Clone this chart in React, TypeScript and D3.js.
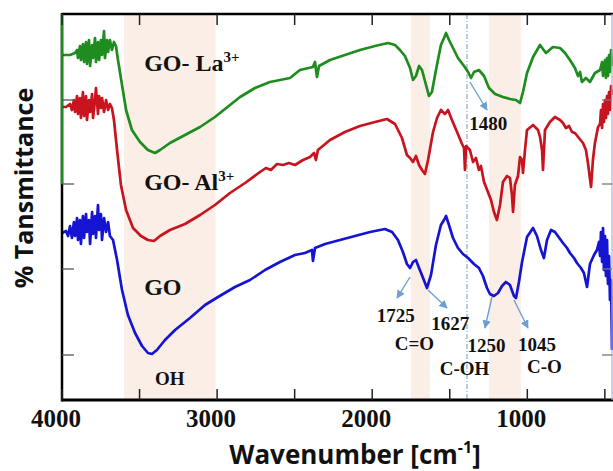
import React from "react";
import * as d3 from "d3";

// ---- data (wavenumber cm-1, relative transmittance units) ----
const goLa: [number, number][] = [
  [4000, 345], [3948, 345], [3916, 347], [3903, 350], [3897, 342], [3884, 354], [3878, 340], [3865, 356], [3858, 338],
  [3845, 358], [3839, 336], [3826, 360], [3819, 334], [3806, 355], [3800, 342], [3787, 362], [3781, 338], [3768, 358],
  [3761, 340], [3749, 360], [3742, 345], [3729, 369], [3723, 342], [3710, 360], [3703, 348], [3691, 360], [3678, 350],
  [3665, 358], [3652, 354], [3639, 340], [3613, 315], [3587, 290], [3549, 270], [3497, 258], [3446, 250], [3400, 247],
  [3368, 250], [3304, 257], [3207, 265], [3110, 273], [3014, 283], [2917, 295], [2852, 303], [2756, 312], [2659, 318],
  [2530, 322], [2466, 330], [2382, 333], [2369, 338], [2356, 323], [2343, 334], [2272, 340], [2176, 345], [2079, 350],
  [1982, 354], [1898, 357], [1853, 355], [1821, 350], [1789, 344], [1756, 332], [1737, 320], [1718, 324], [1698, 334],
  [1679, 330], [1653, 315], [1634, 304], [1615, 308], [1589, 330], [1557, 355], [1537, 362], [1524, 367], [1505, 360],
  [1479, 352], [1447, 342], [1408, 334], [1382, 328], [1363, 322], [1344, 328], [1312, 330], [1279, 324], [1247, 312],
  [1208, 306], [1157, 303], [1112, 301], [1073, 300], [1047, 297], [1028, 308], [1002, 327], [963, 343], [918, 355],
  [880, 347], [835, 353], [789, 352], [757, 347], [725, 340], [693, 332], [673, 324], [660, 328], [648, 318], [622, 322],
  [596, 318], [564, 327], [531, 330], [518, 338], [512, 324], [499, 340], [493, 322], [486, 342], [480, 324], [473, 345],
  [467, 328], [460, 350], [454, 334],
];

const goAl: [number, number][] = [
  [4000, 293], [3974, 293], [3948, 296], [3936, 290], [3923, 300], [3916, 288], [3903, 304], [3897, 286], [3884, 302],
  [3878, 282], [3865, 308], [3858, 284], [3845, 304], [3839, 280], [3826, 300], [3819, 288], [3806, 306], [3800, 282],
  [3787, 300], [3781, 312], [3768, 286], [3761, 304], [3749, 292], [3742, 302], [3729, 288], [3716, 300], [3703, 290],
  [3691, 296], [3678, 292], [3665, 280], [3645, 250], [3620, 215], [3587, 190], [3542, 172], [3491, 164], [3446, 160],
  [3407, 159], [3368, 164], [3304, 170], [3207, 176], [3110, 185], [3014, 195], [2917, 207], [2820, 217], [2723, 228],
  [2685, 232], [2653, 230], [2614, 236], [2575, 235], [2537, 237], [2498, 235], [2446, 240], [2401, 243], [2375, 247],
  [2363, 240], [2350, 250], [2272, 260], [2176, 268], [2079, 274], [1982, 278], [1905, 281], [1853, 276], [1808, 262],
  [1776, 245], [1756, 242], [1737, 238], [1718, 244], [1698, 235], [1679, 230], [1660, 226], [1640, 240], [1608, 268],
  [1582, 282], [1557, 290], [1531, 286], [1511, 290], [1486, 280], [1453, 268], [1421, 256], [1408, 252], [1402, 230],
  [1395, 254], [1370, 250], [1350, 238], [1331, 242], [1312, 230], [1299, 234], [1279, 218], [1254, 208], [1234, 200],
  [1215, 188], [1196, 180], [1176, 195], [1157, 218], [1131, 224], [1112, 222], [1099, 205], [1092, 188], [1080, 215],
  [1060, 224], [1047, 243], [1034, 240], [1028, 227], [1015, 250], [1002, 270], [963, 275], [931, 270], [918, 263],
  [905, 250], [899, 230], [886, 270], [854, 278], [822, 283], [789, 280], [770, 277], [751, 272], [731, 274], [712, 268],
  [693, 267], [667, 262], [641, 257], [622, 250], [609, 237], [589, 213], [577, 240], [564, 257], [544, 273], [531, 276],
  [525, 290], [518, 272], [512, 296], [506, 278], [499, 300], [493, 282], [486, 304], [480, 286], [473, 308], [467, 290],
  [460, 314], [454, 305],
];

const go: [number, number][] = [
  [4000, 167], [3974, 169], [3961, 164], [3948, 174], [3936, 162], [3923, 178], [3916, 164], [3903, 182], [3897, 160],
  [3884, 180], [3878, 156], [3865, 184], [3858, 162], [3845, 186], [3839, 168], [3826, 180], [3819, 156], [3806, 188],
  [3800, 166], [3787, 184], [3781, 162], [3768, 195], [3761, 170], [3749, 186], [3742, 160], [3729, 182], [3716, 168],
  [3703, 178], [3691, 164], [3671, 160], [3645, 140], [3613, 110], [3575, 85], [3529, 67], [3484, 54], [3446, 47],
  [3420, 46], [3388, 50], [3336, 60], [3271, 70], [3175, 82], [3078, 95], [2994, 103], [2885, 113], [2788, 120],
  [2691, 130], [2595, 138], [2498, 145], [2434, 147], [2388, 150], [2382, 139], [2369, 152], [2304, 156], [2208, 160],
  [2111, 164], [2014, 168], [1918, 171], [1872, 168], [1834, 160], [1802, 148], [1776, 136], [1756, 132], [1737, 138],
  [1718, 140], [1698, 132], [1672, 122], [1647, 112], [1621, 125], [1589, 155], [1557, 175], [1537, 180], [1524, 184],
  [1505, 175], [1479, 162], [1447, 152], [1415, 146], [1382, 142], [1344, 136], [1312, 132], [1286, 124], [1260, 112],
  [1241, 106], [1215, 104], [1189, 107], [1163, 114], [1138, 118], [1112, 115], [1086, 104], [1073, 102], [1054, 118],
  [1034, 138], [1002, 163], [963, 172], [938, 164], [912, 150], [893, 142], [873, 160], [847, 170], [822, 168],
  [803, 164], [770, 157], [744, 152], [725, 147], [699, 142], [680, 137], [654, 132], [635, 127], [615, 113], [596, 136],
  [570, 145], [551, 150], [538, 158], [531, 144], [525, 168], [518, 138], [512, 172], [506, 130], [499, 164], [493, 124],
  [486, 160], [480, 116], [473, 144], [467, 100], [460, 120], [454, 50],
];

const xTickMajor = [4000, 3000, 2000, 1000];
const xTickMinor = [3500, 2500, 1500, 500];
const yTicks = [45, 131, 216, 300];
const bands: [number, number][] = [[3600, 3010], [1752, 1628], [1248, 1042]];
const dashLineWn = 1389;

const seriesLabels = [
  { name: "GO- La", sup: "3+", wn: 3470, t: 329, color: "#1e8c1e", data: goLa },
  { name: "GO- Al", sup: "3+", wn: 3470, t: 210, color: "#c8141e", data: goAl },
  { name: "GO", sup: "", wn: 3470, t: 105, color: "#1414d2", data: go },
];

// annotations: text, wavenumber anchor, transmittance anchor
const annotations = [
  { text: "1480", wn: 1375, t: 270 },
  { text: "1725", wn: 1970, t: 78 },
  { text: "1627", wn: 1620, t: 70 },
  { text: "C=O", wn: 1855, t: 50 },
  { text: "1250", wn: 1385, t: 48 },
  { text: "C-OH", wn: 1565, t: 25 },
  { text: "1045", wn: 1060, t: 49 },
  { text: "C-O", wn: 1002, t: 27 },
  { text: "OH", wn: 3400, t: 15 },
];
// arrows: [fromWn, fromT, toWn, toT]
const arrows: [number, number, number, number][] = [
  [1370, 318, 1260, 290],
  [1756, 123, 1840, 102],
  [1640, 110, 1518, 92],
  [1228, 103, 1273, 72],
  [1086, 100, 996, 72],
];

export default function App() {
  const W = 613, H = 471;
  const left = 62, right = 612, top = 14, bottom = 400;
  const x = d3.scaleLinear().domain([4000, 454]).range([left, right]);
  const y = d3.scaleLinear().domain([0, 386]).range([bottom, top]);
  const line = d3.line<[number, number]>().x(d => x(d[0])).y(d => y(d[1]));
  const arrowColor = "#6e9fd2";
  const serif = "'Liberation Serif', 'Times New Roman', serif";
  const sans = "'Open Sans', 'Noto Sans', sans-serif";

  return (
    <svg width={W} height={H} style={{ position: "absolute", left: 0, top: 0, background: "#fff" }}>
      <defs>
        <marker id="ah" viewBox="0 0 10 10" refX="9" refY="5" markerWidth="6" markerHeight="6" orient="auto">
          <path d="M0,0 L10,5 L0,10 z" fill={arrowColor} />
        </marker>
        <clipPath id="plot">
          <rect x={left} y={top} width={right - left + 2} height={bottom - top} />
        </clipPath>
      </defs>
      {bands.map((b, i) => (
        <rect key={i} x={x(b[0])} y={top} width={x(b[1]) - x(b[0])} height={bottom - top} fill="#fbeee7" />
      ))}
      <line x1={x(dashLineWn)} x2={x(dashLineWn)} y1={top} y2={bottom} stroke="#8fa9c8" strokeWidth={1.2} strokeDasharray="5,2,1,2" />
      <g clipPath="url(#plot)">
        {seriesLabels.map((s, i) => (
          <path key={i} d={line(s.data) || ""} fill="none" stroke={s.color} strokeWidth={2.7} strokeLinejoin="round" />
        ))}
      </g>
      {/* frame */}
      <line x1={left} x2={W} y1={top} y2={top} stroke="#000" strokeWidth={2.5} />
      <line x1={left} x2={W} y1={bottom} y2={bottom} stroke="#000" strokeWidth={3} />
      <line x1={left} x2={left} y1={top - 1} y2={bottom + 1.5} stroke="#000" strokeWidth={2.5} />
      <line x1={left} x2={left} y1={top} y2={y(216)} stroke="#1e8c1e" strokeWidth={2.5} />
      <line x1={right} x2={right} y1={top} y2={bottom} stroke="#9fb4dc" strokeWidth={1.2} />
      {xTickMajor.concat(xTickMinor).map((t, i) => (
        <g key={i}>
          <line x1={x(t)} x2={x(t)} y1={top} y2={top + 11} stroke="#222" strokeWidth={1.5} />
          <line x1={x(t)} x2={x(t)} y1={bottom} y2={bottom - 11} stroke="#222" strokeWidth={1.5} />
        </g>
      ))}
      {yTicks.map((t, i) => (
        <g key={i}>
          <line x1={left} x2={left + 12} y1={y(t)} y2={y(t)} stroke="#555" strokeWidth={1.3} />
          <line x1={right} x2={right - 10} y1={y(t)} y2={y(t)} stroke="#777" strokeWidth={1.3} />
        </g>
      ))}
      {xTickMajor.map((t, i) => (
        <text key={i} x={x(t) - 6} y={427} textAnchor="middle" fontFamily={serif} fontWeight="bold" fontSize={25} fill="#111">
          {t}
        </text>
      ))}
      {/* series labels */}
      {seriesLabels.map((s, i) => (
        <text key={i} x={x(s.wn)} y={y(s.t)} fontFamily={serif} fontWeight="bold" fontSize={24} fill="#111">
          {s.name}
          {s.sup && (
            <tspan dy={-9} fontSize={15}>
              {s.sup}
            </tspan>
          )}
        </text>
      ))}
      {annotations.map((a, i) => (
        <text key={i} x={x(a.wn)} y={y(a.t)} fontFamily={serif} fontWeight="bold" fontSize={19} fill="#111">
          {a.text}
        </text>
      ))}
      {arrows.map((a, i) => (
        <line key={i} x1={x(a[0])} y1={y(a[1])} x2={x(a[2])} y2={y(a[3])} stroke={arrowColor} strokeWidth={1.4} markerEnd="url(#ah)" />
      ))}
      {/* axis titles */}
      <text transform="translate(33,188) rotate(-90)" textAnchor="middle" fontFamily={sans} fontWeight={700} fontSize={25} fill="#111">
        % Tansmittance
      </text>
      <text x={355} y={464} textAnchor="middle" fontFamily={sans} fontWeight={700} fontSize={26} fill="#111">
        Wavenumber [cm
        <tspan dy={-11} fontSize={16}>-1</tspan>
        <tspan dy={11}>]</tspan>
      </text>
    </svg>
  );
}
